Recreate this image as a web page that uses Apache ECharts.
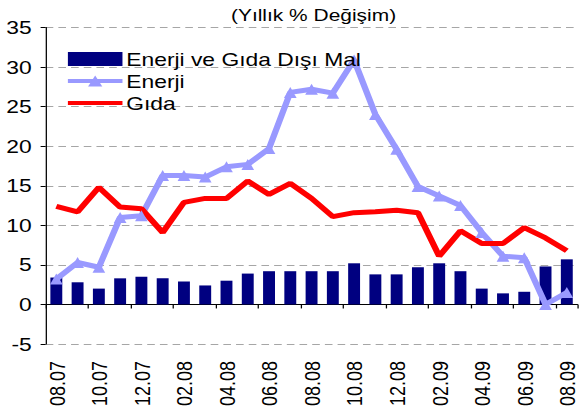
<!DOCTYPE html>
<html>
<head>
<meta charset="utf-8">
<script src="https://cdn.jsdelivr.net/npm/echarts@6/dist/echarts.min.js"></script>
<style>
  html, body { margin: 0; padding: 0; background: #fff; overflow: hidden; }
  /* the reference is a horizontally stretched picture, so the chart is drawn narrower and stretched */
  #chart { width: 457px; height: 419px; transform: scaleX(1.2691); transform-origin: 0 0; }
</style>
</head>
<body>
<div id="chart"></div>
<script>
const months = ['08.07', '09.07', '10.07', '11.07', '12.07', '01.08', '02.08', '03.08', '04.08',
  '05.08', '06.08', '07.08', '08.08', '09.08', '10.08', '11.08', '12.08', '01.09', '02.09',
  '03.09', '04.09', '05.09', '06.09', '07.09', '08.09'];

const disiMal = [3.4, 2.8, 2.0, 3.3, 3.5, 3.3, 2.9, 2.4, 3.0, 3.9, 4.2, 4.2, 4.2, 4.2, 5.2,
  3.8, 3.8, 4.7, 5.2, 4.2, 2.0, 1.4, 1.6, 4.8, 5.7];

const enerji = [3.2, 5.3, 4.7, 11.0, 11.2, 16.3, 16.3, 16.1, 17.4, 17.7, 19.7, 26.8, 27.2,
  26.7, 30.9, 24.0, 19.6, 14.9, 13.7, 12.5, 9.1, 6.1, 5.9, 0.0, 1.5];

const gida = [12.4, 11.7, 14.8, 12.3, 12.1, 9.1, 12.9, 13.4, 13.4, 15.6, 13.9, 15.3, 13.4,
  11.1, 11.6, 11.7, 11.9, 11.6, 6.1, 9.3, 7.7, 7.7, 9.7, 8.4, 6.8];

const font = "'Liberation Sans', Arial, sans-serif";

const chart = echarts.init(document.getElementById('chart'), null, { renderer: 'svg' });

const option = {
  animation: false,
  backgroundColor: '#fff',
  textStyle: { fontFamily: font, color: '#000' },
  title: {
    text: '(Yıllık % Değişim)',
    left: 177,
    top: 2,
    textStyle: { fontFamily: font, fontSize: 16.5, fontWeight: 'normal', color: '#000' }
  },
  legend: {
    orient: 'vertical',
    left: 46.5,
    top: 45,
    itemWidth: 43,
    itemHeight: 14,
    itemGap: 4,
    textStyle: { fontFamily: font, fontSize: 18, color: '#000', padding: [0, 0, 0, -2] },
    data: [
      { name: 'Enerji ve Gıda Dışı Mal', icon: 'rect' },
      { name: 'Enerji', lineStyle: { width: 4 } },
      // plain line in the legend, no marker
      { name: 'Gıda', lineStyle: { width: 4 }, itemStyle: { opacity: 0 } }
    ]
  },
  grid: { left: 36, right: 2, top: 27.5, bottom: 75 },
  xAxis: [
    {
      type: 'category',
      data: months,
      axisLine: { onZero: true, lineStyle: { color: '#000', width: 1 } },
      axisTick: { show: true, interval: 1, length: 4, lineStyle: { color: '#000' } },
      axisLabel: { show: false },
      splitLine: { show: false }
    },
    {
      type: 'category',
      data: months,
      position: 'bottom',
      axisLine: { show: false, onZero: false },
      axisTick: { show: false },
      axisLabel: {
        interval: 1,
        rotate: 90,
        margin: 17,
        fontFamily: font,
        fontSize: 18,
        color: '#000'
      }
    }
  ],
  yAxis: {
    type: 'value',
    min: -5,
    max: 35,
    interval: 5,
    axisLine: { show: true, lineStyle: { color: '#000', width: 1 } },
    axisTick: { show: true, length: 4, lineStyle: { color: '#000' } },
    axisLabel: { margin: 11, fontFamily: font, fontSize: 18, color: '#000' },
    splitLine: { show: true, lineStyle: { color: '#a6a6a6', type: [6, 4], width: 1 } }
  },
  series: [
    {
      name: 'Enerji ve Gıda Dışı Mal',
      type: 'bar',
      data: disiMal,
      barWidth: '56%',
      itemStyle: { color: '#000080' }
    },
    {
      name: 'Enerji',
      type: 'line',
      data: enerji,
      symbol: 'triangle',
      symbolSize: [10, 11],
      lineStyle: { color: '#9999ff', width: 5 },
      itemStyle: { color: '#9999ff' }
    },
    {
      name: 'Gıda',
      type: 'line',
      data: gida,
      symbol: 'none',
      lineStyle: { color: '#ff0000', width: 5 },
      itemStyle: { color: '#ff0000' }
    }
  ]
};

chart.setOption(option);
</script>
</body>
</html>
